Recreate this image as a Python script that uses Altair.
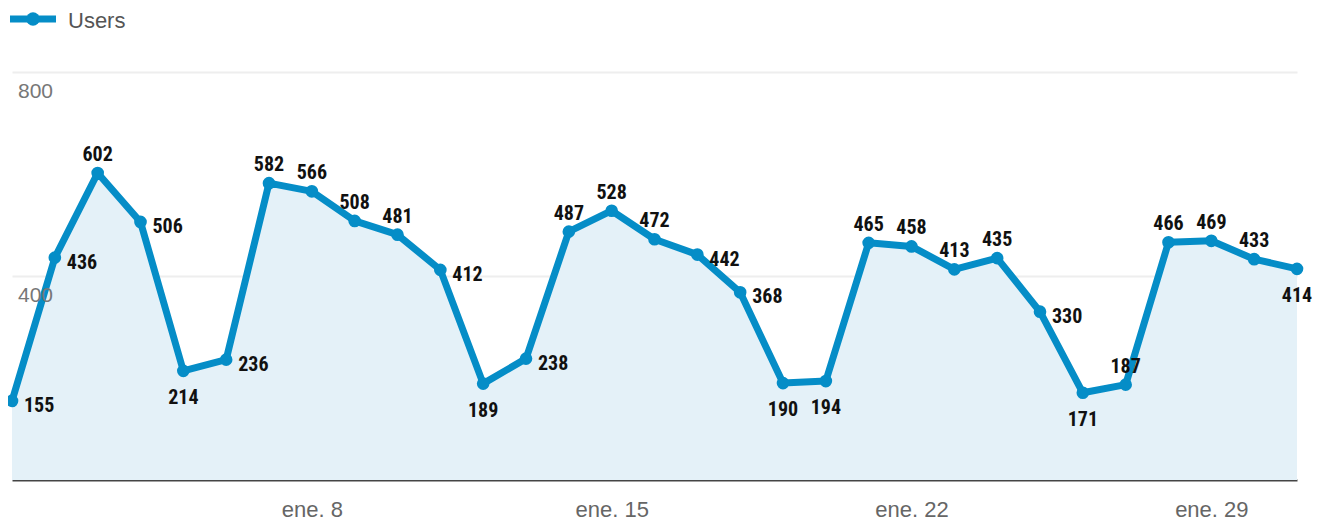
import altair as alt
import pandas as pd

days = [1, 2, 3, 4, 5, 6, 7, 8, 9, 10, 11, 12, 13, 14, 15, 16, 17, 18, 19, 20,
        21, 22, 23, 24, 25, 26, 27, 28, 29, 30, 31]
users = [155, 436, 602, 506, 214, 236, 582, 566, 508, 481, 412, 189, 238, 487,
         528, 472, 442, 368, 190, 194, 465, 458, 413, 435, 330, 171, 187, 466,
         469, 433, 414]
placement = ["right", "right", "above", "right", "below", "right", "above",
             "above", "above", "above", "right", "below", "right", "above",
             "above", "above", "right", "right", "below", "below", "above",
             "above", "above", "above", "right", "below", "above", "above",
             "above", "above", "below"]
x_ticks = [8, 15, 22, 29]
y_ticks = [400, 800]
series_name = "Users"

df = pd.DataFrame({"day": days, "users": users, "pos": placement})
ytick_df = pd.DataFrame({"v": y_ticks})

BLUE = "#058DC7"
FILL = "#E4F1F8"
LABEL_FONT = "Roboto Condensed, Liberation Sans Narrow, Roboto, sans-serif"
AXIS_FONT = "Liberation Sans, Arial, sans-serif"

x = alt.X("day:Q", scale=alt.Scale(domain=[1, 31], nice=False, zero=False),
          axis=alt.Axis(values=x_ticks, labelExpr="'ene. ' + datum.value",
                        grid=False, ticks=False, domain=True,
                        domainColor="#444", domainWidth=2,
                        labelFontSize=22, labelColor="#666",
                        labelFont=AXIS_FONT, labelPadding=19,
                        title=None))
y = alt.Y("users:Q", scale=alt.Scale(domain=[0, 800], nice=False),
          axis=alt.Axis(values=y_ticks, grid=True, gridColor="#EEEEEE",
                        gridWidth=2, ticks=False, domain=False,
                        labels=False, title=None))

base = alt.Chart(df)
area = base.mark_area(color=FILL, opacity=1).encode(x=x, y=y)
line = base.mark_line(color=BLUE, strokeWidth=7, strokeJoin="round").encode(x=x, y=y)
pts = base.mark_circle(color=BLUE, size=160, opacity=1).encode(x=x, y=y)

ylabels = alt.Chart(ytick_df).mark_text(
    align="left", baseline="middle", dy=20, fontSize=21, font=AXIS_FONT,
    color="#777").encode(x=alt.value(6), y=alt.Y("v:Q"), text="v:Q")

def labels(pos, **kw):
    return base.transform_filter(alt.datum.pos == pos).mark_text(
        font=LABEL_FONT, fontSize=20, fontWeight="bold", color="#111", **kw
    ).encode(x="day:Q", y="users:Q", text="users:Q")

above = labels("above", dy=-18, baseline="middle", align="center")
below = labels("below", dy=27, baseline="middle", align="center")
right = labels("right", dx=12, dy=5, baseline="middle", align="left")

leg_df = pd.DataFrame({"name": [series_name]})
leg_base = alt.Chart(leg_df)
leg_line = leg_base.mark_rule(color=BLUE, strokeWidth=7).encode(
    x=alt.value(-2), x2=alt.value(44), y=alt.value(-53))
leg_dot = leg_base.mark_circle(color=BLUE, size=180, opacity=1).encode(
    x=alt.value(21), y=alt.value(-53))
leg_text = leg_base.mark_text(align="left", baseline="middle", fontSize=22,
                              font=AXIS_FONT, color="#555").encode(
    x=alt.value(56), y=alt.value(-51), text="name:N")

chart = alt.layer(area, line, pts, ylabels, above, below, right,
                  leg_line, leg_dot, leg_text).properties(
    width=1285, height=408,
    autosize=alt.AutoSizeParams(type="none"),
    padding={"left": 4, "top": 64, "right": 20, "bottom": 44},
).configure_view(stroke=None)

chart.save("out.html", embed_options={"renderer": "svg", "actions": False})
